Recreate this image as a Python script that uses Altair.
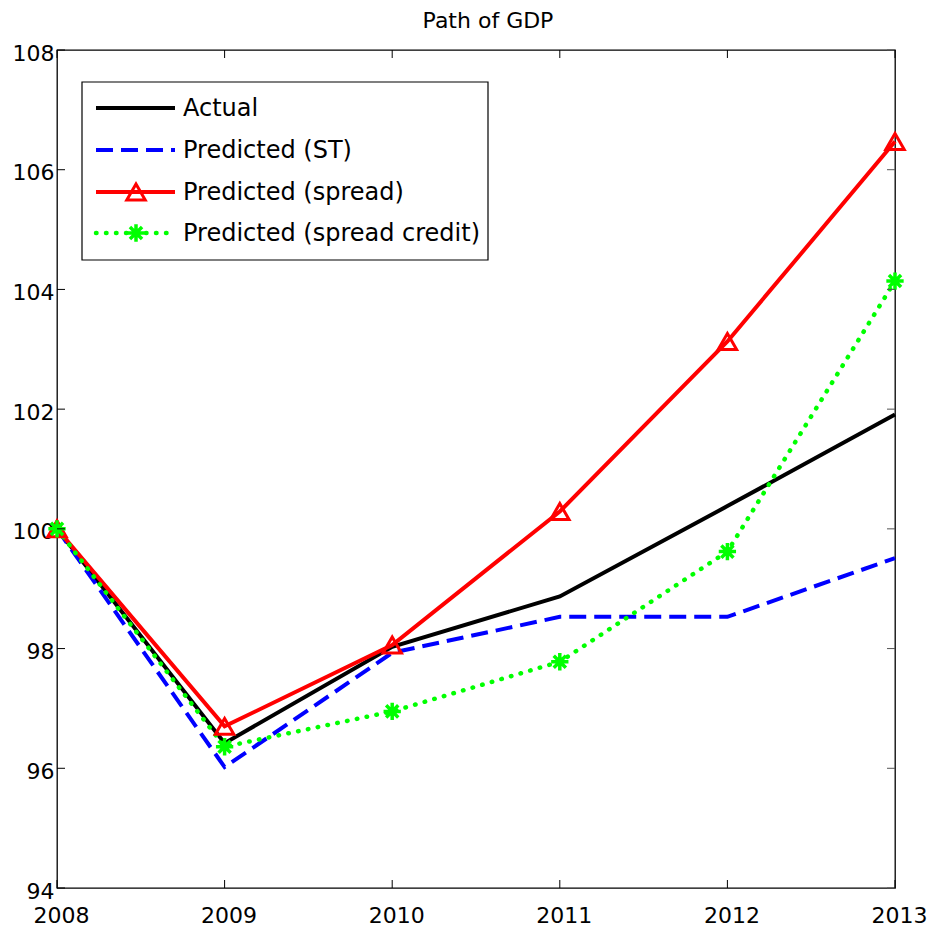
import altair as alt
import pandas as pd

# ---- data ----
years = [2008, 2009, 2010, 2011, 2012, 2013]
actual = [100.0, 96.42, 98.03, 98.87, 100.38, 101.91]
pred_st = [100.0, 96.02, 97.93, 98.53, 98.53, 99.51]
pred_spread = [100.0, 96.70, 98.06, 100.29, 103.13, 106.47]
pred_credit = [100.0, 96.36, 96.95, 97.78, 99.62, 104.14]
series_names = ["Actual", "Predicted (ST)", "Predicted (spread)", "Predicted (spread credit)"]
y_ticks = [94, 96, 98, 100, 102, 104, 106, 108]
x_ticks = years

W, H = 838, 838
FONT = "DejaVu Sans"

rows = []
for name, vals in zip(series_names, [actual, pred_st, pred_spread, pred_credit]):
    for yr, v in zip(years, vals):
        rows.append({"series": name, "year": yr, "gdp": v})
df = pd.DataFrame(rows)

xscale = alt.Scale(domain=[2008, 2013], nice=False, zero=False)
yscale = alt.Scale(domain=[94, 108], nice=False, zero=False)

xaxis = alt.Axis(values=x_ticks, format="d", title=None, grid=False, domain=False,
                 tickSize=0, labelPadding=17, labelFontSize=22, labelFont=FONT,
                 labelColor="#000", labelFlush=False, labelOffset=4)
yaxis = alt.Axis(values=y_ticks, format="d", title=None, grid=False, domain=False,
                 tickSize=0, labelPadding=3, labelFontSize=22, labelFont=FONT,
                 labelColor="#000", labelFlush=False, labelOffset=3)
xenc = alt.X("year:Q", scale=xscale, axis=xaxis)
yenc = alt.Y("gdp:Q", scale=yscale, axis=yaxis)

styles = {
    "Actual": dict(color="#000000", strokeWidth=4),
    "Predicted (ST)": dict(color="#0000ff", strokeWidth=4, strokeDash=[17, 8]),
    "Predicted (spread)": dict(color="#ff0000", strokeWidth=4),
    "Predicted (spread credit)": dict(color="#00ff00", strokeWidth=4.5, strokeDash=[0.5, 9.5], strokeCap="round"),
}

ASTER = "M0,-1L0,1M-1,0L1,0M-0.7,-0.7L0.7,0.7M-0.7,0.7L0.7,-0.7"

base = alt.Chart(df)
layers = []
for name in series_names:
    layers.append(
        base.transform_filter(alt.datum.series == name)
        .mark_line(**styles[name])
        .encode(x=xenc, y=yenc)
    )
# markers
layers.append(
    base.transform_filter(alt.datum.series == "Predicted (spread)")
    .mark_point(shape="triangle-up", filled=False, color="#ff0000", strokeWidth=3, size=340, opacity=1)
    .encode(x=xenc, y=yenc)
)
layers.append(
    base.transform_filter(alt.datum.series == "Predicted (spread credit)")
    .mark_point(shape=ASTER, filled=False, color="#00ff00", strokeWidth=3.5, size=300, opacity=1)
    .encode(x=xenc, y=yenc)
)

# inward ticks (MATLAB box style)
ydf = pd.DataFrame({"gdp": y_ticks})
xdf = pd.DataFrame({"year": x_ticks})
TL = 8
tick_style = dict(color="#000000", strokeWidth=1)
layers.append(alt.Chart(ydf).mark_rule(**tick_style).encode(
    y=yenc, x=alt.value(0), x2=alt.value(TL)))
layers.append(alt.Chart(ydf).mark_rule(color="#555555", strokeWidth=1).encode(
    y=yenc, x=alt.value(W - TL), x2=alt.value(W)))
layers.append(alt.Chart(xdf).mark_rule(**tick_style).encode(
    x=xenc, y=alt.value(H - TL), y2=alt.value(H)))
layers.append(alt.Chart(xdf).mark_rule(**tick_style).encode(
    x=xenc, y=alt.value(0), y2=alt.value(TL)))

# legend box
one = pd.DataFrame({"k": [0]})
layers.append(alt.Chart(one).mark_rect(fill="white", stroke="#000000", strokeWidth=1.2).encode(
    x=alt.value(25), x2=alt.value(431), y=alt.value(32), y2=alt.value(210)))
row_y = [58, 100, 142, 183]
for name, ry in zip(series_names, row_y):
    st = dict(styles[name])
    layers.append(alt.Chart(one).mark_rule(**st).encode(
        x=alt.value(39), x2=alt.value(118), y=alt.value(ry)))
    layers.append(alt.Chart(one).mark_text(text=name, align="left", baseline="middle",
                                           font=FONT, fontSize=24, color="#000").encode(
        x=alt.value(126), y=alt.value(ry + 1)))
layers.append(alt.Chart(one).mark_point(shape="triangle-up", filled=False, color="#ff0000",
                                        strokeWidth=3, size=340, opacity=1).encode(
    x=alt.value(79), y=alt.value(row_y[2])))
layers.append(alt.Chart(one).mark_point(shape=ASTER, filled=False, color="#00ff00",
                                        strokeWidth=3.5, size=300, opacity=1).encode(
    x=alt.value(79), y=alt.value(row_y[3])))

chart = alt.layer(*layers).properties(
    width=W, height=H,
    title=alt.TitleParams("Path of GDP", font=FONT, fontSize=22, fontWeight="normal",
                          color="#000", offset=9, dx=12, anchor="middle"),
    autosize=alt.AutoSizeParams(type="none"),
    padding={"left": 57, "top": 50, "right": 41, "bottom": 43},
    background="white",
).configure_view(stroke="#000000", strokeWidth=1.3)

chart.save("out.html", embed_options={"renderer": "svg", "actions": False})
